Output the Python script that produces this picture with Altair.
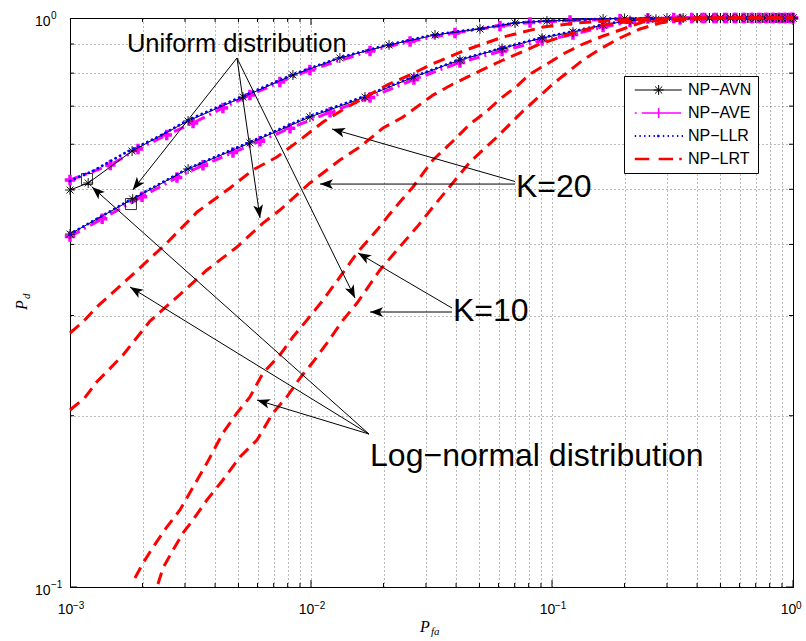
import math
import altair as alt
import pandas as pd

W, H = 723, 569
X_DOMAIN = [0.001, 1.0]
Y_DOMAIN = [0.1, 1.0]

# ---------------- data ----------------
# upper bundle (AVN / AVE / LLR)
up_avn_x = [0.001, 0.00119, 0.00181, 0.00309, 0.00522, 0.00841, 0.01318, 0.02108, 0.0327, 0.05025,
            0.07022, 0.0953, 0.163, 0.2, 0.25, 0.3, 0.35, 0.4, 0.45, 0.5, 0.55, 0.6, 0.65, 0.7, 0.75,
            0.8, 0.85, 0.9, 0.95, 1.0]
up_avn_y = [0.4985, 0.5129, 0.5838, 0.6592, 0.7261, 0.7940, 0.8506, 0.8965, 0.9336, 0.9565,
            0.9800, 0.9879, 0.9960, 0.9980, 0.9990, 1.0, 1.0, 1.0, 1.0, 1.0, 1.0, 1.0, 1.0, 1.0, 1.0,
            1.0, 1.0, 1.0, 1.0, 1.0]
up_ave_x = [0.001, 0.00147, 0.001915, 0.00252, 0.00324, 0.00431, 0.00558, 0.00743, 0.0099, 0.01758,
            0.02576, 0.03958, 0.06081, 0.08105, 0.1188, 0.1915, 0.25, 0.32, 0.38, 0.43, 0.48, 0.53,
            0.58, 0.63, 0.68, 0.73, 0.78, 0.83, 0.88, 0.93, 0.98, 1.0]
up_ave_y = [0.5191, 0.5517, 0.5885, 0.6228, 0.6540, 0.6947, 0.7320, 0.7718, 0.8101, 0.8750,
            0.9093, 0.9411, 0.9681, 0.9819, 0.9900, 0.9950, 0.9980, 1.0, 1.0, 1.0, 1.0, 1.0,
            1.0, 1.0, 1.0, 1.0, 1.0, 1.0, 1.0, 1.0, 1.0, 1.0]
up_llr_x = [0.001, 0.001246, 0.00172, 0.00236, 0.00309, 0.00522, 0.00841, 0.01318, 0.02108, 0.0327,
            0.05025, 0.07022, 0.0953, 0.163, 0.25, 0.4, 1.0]
up_llr_y = [0.5171, 0.5384, 0.5814, 0.6203, 0.6618, 0.7291, 0.7956, 0.8523, 0.8984, 0.9354,
            0.9584, 0.9805, 0.9885, 0.9965, 0.9990, 1.0, 1.0]

# lower bundle (AVN / AVE / LLR)
lo_avn_x = [0.001, 0.00182, 0.00309, 0.00558, 0.0099, 0.01675, 0.02673, 0.0415, 0.06205, 0.09097,
            0.1222, 0.1629, 0.2108, 0.27, 0.3398, 0.4, 0.45, 0.5, 0.55, 0.6, 0.65, 0.7, 0.75, 0.8,
            0.85, 0.9, 0.95, 1.0]
lo_avn_y = [0.4171, 0.4806, 0.5428, 0.6031, 0.6699, 0.7261, 0.7876, 0.8437, 0.8840, 0.9223,
            0.9449, 0.9721, 0.9899, 0.9950, 0.9980, 0.9990, 1.0, 1.0, 1.0, 1.0, 1.0, 1.0, 1.0, 1.0,
            1.0, 1.0, 1.0, 1.0]
lo_ave_x = [0.001, 0.00136, 0.00199, 0.00278, 0.003563, 0.004745, 0.006143, 0.008181, 0.011993,
            0.01758, 0.02673, 0.0415, 0.06205, 0.09097, 0.1222, 0.1629, 0.2108, 0.3398, 0.42, 0.47,
            0.52, 0.57, 0.62, 0.67, 0.72, 0.77, 0.82, 0.87, 0.92, 0.97, 1.0]
lo_ave_y = [0.4130, 0.4437, 0.4853, 0.5243, 0.5512, 0.5800, 0.6074, 0.6402, 0.6831,
            0.7246, 0.7796, 0.8352, 0.8750, 0.9130, 0.9354, 0.9642, 0.9839, 0.9940, 1.0, 1.0,
            1.0, 1.0, 1.0, 1.0, 1.0, 1.0, 1.0, 1.0, 1.0, 1.0, 1.0]
lo_llr_x = [0.001, 0.00182, 0.00309, 0.00558, 0.0099, 0.01675, 0.02673, 0.0415, 0.06205, 0.09097,
            0.1222, 0.1629, 0.2108, 0.3398, 0.45, 1.0]
lo_llr_y = [0.4171, 0.4817, 0.5439, 0.6054, 0.6727, 0.7291, 0.7892, 0.8454, 0.8857, 0.9242,
            0.9468, 0.9741, 0.9920, 0.9988, 1.0, 1.0]

# NP-LRT curves (red dashed)
r1_x = [0.001, 0.00113, 0.00129, 0.00172, 0.00252, 0.00337, 0.00461, 0.00574, 0.00722, 0.009,
        0.01122, 0.0141, 0.01596, 0.02066, 0.02576, 0.03117, 0.04272, 0.06266, 0.09183, 0.1271,
        0.1862, 0.2806, 0.4, 1.0]
r1_y = [0.2795, 0.2921, 0.3105, 0.3464, 0.4022, 0.4561, 0.5026, 0.5406, 0.5698, 0.6104,
        0.6566, 0.6973, 0.7173, 0.7626, 0.7940, 0.8268, 0.8750, 0.9260, 0.9642, 0.9800,
        0.9920, 0.9980, 1.0, 1.0]
r2_x = [0.001, 0.00115, 0.00129, 0.00147, 0.00166, 0.00186, 0.002147, 0.00278, 0.0037, 0.00493,
        0.00632, 0.00743, 0.0099, 0.01318, 0.01596, 0.0199, 0.0241, 0.03207, 0.03885, 0.05025,
        0.06266, 0.08917, 0.1222, 0.1629, 0.2169, 0.2888, 0.411, 1.0]
r2_y = [0.2047, 0.2149, 0.2292, 0.2425, 0.2557, 0.2717, 0.2933, 0.3233, 0.3607, 0.3958,
        0.4361, 0.4598, 0.5129, 0.5630, 0.5933, 0.6408, 0.6699, 0.7320, 0.7656, 0.8071,
        0.8437, 0.9001, 0.9411, 0.9721, 0.9879, 0.9960, 1.0, 1.0]
r3_x = [0.00186, 0.00201, 0.00221, 0.00252, 0.00286, 0.00324, 0.0037, 0.00431, 0.00493, 0.00558,
        0.00632, 0.00743, 0.00841, 0.00962, 0.01122, 0.01318, 0.01552, 0.01878, 0.02188, 0.0265,
        0.03207, 0.03885, 0.04568, 0.05372, 0.06081, 0.07156, 0.08105, 0.0953, 0.1111, 0.1345,
        0.1629, 0.1971, 0.2385, 0.309, 0.411, 1.0]
r3_y = [0.1037, 0.1102, 0.1175, 0.1274, 0.1366, 0.1498, 0.1651, 0.1865, 0.2022, 0.2158,
        0.2377, 0.2557, 0.2750, 0.2945, 0.3194, 0.3506, 0.3864, 0.4239, 0.4598, 0.5047,
        0.5630, 0.6079, 0.6513, 0.6861, 0.7203, 0.7595, 0.7972, 0.8301, 0.8645, 0.9001,
        0.9297, 0.9565, 0.9839, 0.9960, 1.0, 1.0]
r4_x = [0.002318, 0.002431, 0.002676, 0.00294, 0.00324, 0.0037, 0.00431, 0.00507, 0.00597, 0.00695,
        0.00794, 0.009, 0.01019, 0.01165, 0.01358, 0.01552, 0.01933, 0.02274, 0.02752, 0.03207,
        0.04568, 0.0591, 0.0758, 0.1009, 0.1345, 0.1583, 0.1915, 0.2318, 0.2806, 0.3398,
        0.4528, 0.6637, 1.0]
r4_y = [0.1012, 0.1080, 0.1161, 0.1244, 0.1312, 0.1422, 0.1542, 0.1692, 0.1813, 0.2022,
        0.2158, 0.2329, 0.2485, 0.2684, 0.2945, 0.3155, 0.3607, 0.3910, 0.4291, 0.4654,
        0.5584, 0.6178, 0.6861, 0.7656, 0.8437, 0.8822, 0.9223, 0.9565, 0.9800, 0.9920,
        0.9980, 1.0, 1.0]

# highlighted square markers
sq_x = [0.001176, 0.00179]
sq_y = [0.5212, 0.4710]

# annotation arrows (tail -> head)
arrow_x1 = [0.00493, 0.00493, 0.00493, 0.07022, 0.07022, 0.03846, 0.03846, 0.0174, 0.0174, 0.0174]
arrow_y1 = [0.8506, 0.8506, 0.8506, 0.5160, 0.5107, 0.3092, 0.3043, 0.1857, 0.1857, 0.1857]
arrow_x2 = [0.00182, 0.006143, 0.01523, 0.01222, 0.0109, 0.01567, 0.01758, 0.001234, 0.001775, 0.00597]
arrow_y2 = [0.4985, 0.4453, 0.3220, 0.6382, 0.5107, 0.3864, 0.3043, 0.5047, 0.3367, 0.2131]

# annotation texts
ann_text = ["Uniform distribution", "K=20", "K=10", "Log\u2212normal distribution"]
ann_x = [0.001723, 0.07089, 0.03883, 0.01758]
ann_y = [0.8715, 0.4845, 0.2934, 0.1632]
ann_size = [25.5, 32, 32, 32]

# axes: tick positions and decade exponents
x_major = [0.001, 0.01, 0.1, 1.0]
x_exp = ["\u22123", "\u22122", "\u22121", "0"]
x_minor = [0.002, 0.003, 0.004, 0.005, 0.006, 0.007, 0.008, 0.009,
           0.02, 0.03, 0.04, 0.05, 0.06, 0.07, 0.08, 0.09,
           0.2, 0.3, 0.4, 0.5, 0.6, 0.7, 0.8, 0.9]
y_major = [0.1, 1.0]
y_exp = ["\u22121", "0"]
y_minor = [0.2, 0.3, 0.4, 0.5, 0.6, 0.7, 0.8, 0.9]

legend_names = ["NP\u2212AVN", "NP\u2212AVE", "NP\u2212LLR", "NP\u2212LRT"]
legend_colors = ["#000000", "#FF00FF", "#0000FF", "#FF0000"]
legend_widths = [1, 2.5, 2, 3]

# ---------------- styling ----------------
FONT = "Liberation Sans"
SERIF = "Liberation Serif"
STAR = "M-1,0H1M0,-1V1M-0.7,-0.7L0.7,0.7M-0.7,0.7L0.7,-0.7"
PLUS = "M-1,0H1M0,-1V1"
HEAD = "M0,0L-2,-0.75L-1.5,0L-2,0.75Z"

LEG_AVN = "M-0.52,0H7.0M2.5,0H4.1M3.3,-0.8V0.8M2.73,-0.57L3.87,0.57M2.73,0.57L3.87,-0.57"
LEG_AVE = "M-0.52,0H-0.2M0.6,0H6.9M3.3,-0.8V0.8"
LEG_LLR = "".join("M%.2f,0h0.22" % (-0.52 + 0.75 * k) for k in range(11)) + "M3.23,-0.2V0.2"
LEG_LRT = "M-0.52,0H1.8M3.3,0H5.6M6.6,0H7.0"
legend_paths = [LEG_AVN, LEG_AVE, LEG_LLR, LEG_LRT]

xs = alt.Scale(type="log", domain=X_DOMAIN, nice=False)
ys = alt.Scale(type="log", domain=Y_DOMAIN, nice=False)

decade = "datum.value == 0.001 || datum.value == 0.01 || datum.value == 0.1 || datum.value == 1 ? '10' : ''"

common_axis = dict(grid=True, gridDash=[1, 3], gridColor="#000000", gridOpacity=0.55, gridWidth=1,
                   ticks=False, domain=True, domainColor="black", domainWidth=1,
                   labelFont=FONT, labelFontSize=14, labelColor="black", title=None,
                   labelOverlap=False, labelFlush=False, labelExpr=decade)
x_axis = alt.Axis(values=x_major + x_minor, labelPadding=15, labelOffset=-5, **common_axis)
y_axis = alt.Axis(values=y_major + y_minor, labelPadding=20, labelOffset=3, labelAlign="right",
                  **common_axis)


def X(field="x"):
    return alt.X(f"{field}:Q", scale=xs, axis=x_axis)


def Y(field="y"):
    return alt.Y(f"{field}:Q", scale=ys, axis=y_axis)


def YD(v):
    return alt.YDatum(v, type="quantitative", scale=ys, axis=y_axis)


def XD(v):
    return alt.XDatum(v, type="quantitative", scale=xs, axis=x_axis)


def frame(pairs):
    rows = []
    for name, xv, yv in pairs:
        for a, b in zip(xv, yv):
            rows.append({"curve": name, "x": a, "y": b})
    return pd.DataFrame(rows)


avn_df = frame([("up", up_avn_x, up_avn_y), ("lo", lo_avn_x, lo_avn_y)])
ave_df = frame([("up", up_ave_x, up_ave_y), ("lo", lo_ave_x, lo_ave_y)])
llr_df = frame([("up", up_llr_x, up_llr_y), ("lo", lo_llr_x, lo_llr_y)])
lrt_df = frame([("r1", r1_x, r1_y), ("r2", r2_x, r2_y), ("r3", r3_x, r3_y), ("r4", r4_x, r4_y)])

# inward ticks (clipped to the frame)
tick_layers = []
for vals, size in [(x_major, 14), (x_minor, 8)]:
    for edge in Y_DOMAIN:
        tick_layers.append(alt.Chart(pd.DataFrame({"v": vals})).mark_tick(
            orient="vertical", size=size, thickness=1, color="black", clip=True, opacity=1).encode(
            x=X("v"), y=YD(edge)))
for vals, size in [(y_major, 14), (y_minor, 8)]:
    for edge in X_DOMAIN:
        tick_layers.append(alt.Chart(pd.DataFrame({"v": vals})).mark_tick(
            orient="horizontal", size=size, thickness=1, color="black", clip=True, opacity=1).encode(
            y=Y("v"), x=XD(edge)))

# exponents of the decade labels
x_exp_layer = alt.Chart(pd.DataFrame({"v": x_major, "e": x_exp})).mark_text(
    align="left", baseline="alphabetic", font=FONT, fontSize=10, color="black", dx=3, dy=22).encode(
    x=X("v"), y=YD(Y_DOMAIN[0]), text="e:N")
y_exp_layer = alt.Chart(pd.DataFrame({"v": y_major, "e": y_exp})).mark_text(
    align="left", baseline="alphabetic", font=FONT, fontSize=10, color="black", dx=-19, dy=1).encode(
    y=Y("v"), x=XD(X_DOMAIN[0]), text="e:N")

ave_line = alt.Chart(ave_df).mark_line(color="#FF00FF", strokeWidth=3, strokeDash=[11, 5, 2, 5]).encode(
    x=X(), y=Y(), detail="curve:N")
ave_pts = alt.Chart(ave_df).mark_point(shape=PLUS, size=110, color="#FF00FF", strokeWidth=3.5,
                                       filled=False, opacity=1).encode(x=X(), y=Y())
avn_line = alt.Chart(avn_df).mark_line(color="black", strokeWidth=1).encode(
    x=X(), y=Y(), detail="curve:N")
avn_pts = alt.Chart(avn_df).mark_point(shape=STAR, size=100, color="black", strokeWidth=0.9,
                                       filled=False, opacity=1).encode(x=X(), y=Y())
llr_line = alt.Chart(llr_df).mark_line(color="#0000FF", strokeWidth=2.8, strokeDash=[0.1, 5],
                                       strokeCap="round").encode(x=X(), y=Y(), detail="curve:N")
lrt_line = alt.Chart(lrt_df).mark_line(color="#FF0000", strokeWidth=3, strokeDash=[12, 7]).encode(
    x=X(), y=Y(), detail="curve:N")
squares = alt.Chart(pd.DataFrame({"x": sq_x, "y": sq_y})).mark_point(
    shape="square", size=121, filled=False, color="black", strokeWidth=0.8, opacity=1).encode(x=X(), y=Y())

# arrows
lx_span = math.log10(X_DOMAIN[1]) - math.log10(X_DOMAIN[0])
ly_span = math.log10(Y_DOMAIN[1]) - math.log10(Y_DOMAIN[0])
angles = []
for a, b, c, d in zip(arrow_x1, arrow_y1, arrow_x2, arrow_y2):
    dx = W * (math.log10(c) - math.log10(a)) / lx_span
    dy = -H * (math.log10(d) - math.log10(b)) / ly_span
    angles.append(math.degrees(math.atan2(dy, dx)) % 360)
arrow_df = pd.DataFrame({"x1": arrow_x1, "y1": arrow_y1, "x2": arrow_x2, "y2": arrow_y2, "ang": angles})
arrow_lines = alt.Chart(arrow_df).mark_rule(color="black", strokeWidth=1).encode(
    x=X("x1"), y=Y("y1"), x2="x2:Q", y2="y2:Q")
arrow_heads = alt.Chart(arrow_df).mark_point(shape=HEAD, size=169, filled=True, color="black",
                                             opacity=1, strokeWidth=0).encode(
    x=X("x2"), y=Y("y2"), angle=alt.Angle("ang:Q", scale=None))

ann_df = pd.DataFrame({"t": ann_text, "x": ann_x, "y": ann_y, "fs": ann_size})
ann_layer = alt.Chart(ann_df).mark_text(align="left", baseline="alphabetic", font=FONT,
                                        color="black").encode(
    x=X(), y=Y(), text="t:N", size=alt.Size("fs:Q", scale=None))

# axis titles (P_d, P_fa)
t_px = alt.Chart(pd.DataFrame({"t": ["P"]})).mark_text(
    align="left", baseline="alphabetic", font=SERIF, fontStyle="italic", fontSize=16, color="black").encode(
    x=alt.value(350), y=alt.value(614), text="t:N")
t_fa = alt.Chart(pd.DataFrame({"t": ["fa"]})).mark_text(
    align="left", baseline="alphabetic", font=SERIF, fontStyle="italic", fontSize=11, color="black").encode(
    x=alt.value(361), y=alt.value(617), text="t:N")
t_py = alt.Chart(pd.DataFrame({"t": ["P"]})).mark_text(
    align="left", baseline="alphabetic", font=SERIF, fontStyle="italic", fontSize=16, color="black",
    angle=270).encode(x=alt.value(-43), y=alt.value(292), text="t:N")
t_d = alt.Chart(pd.DataFrame({"t": ["d"]})).mark_text(
    align="left", baseline="alphabetic", font=SERIF, fontStyle="italic", fontSize=11, color="black",
    angle=270).encode(x=alt.value(-40), y=alt.value(281), text="t:N")

# legend (from scales only; the layer itself draws nothing)
leg = alt.Legend(title=None, orient="none", legendX=554, legendY=58, strokeColor="black",
                 fillColor="white", padding=6, labelFont=FONT, labelFontSize=16, labelColor="black",
                 symbolSize=156.25, rowPadding=7, labelOffset=42, symbolFillColor="transparent",
                 cornerRadius=0)
legend_layer = alt.Chart(pd.DataFrame({"series": legend_names, "x": [0.5] * 4, "y": [0.5] * 4})
                         ).transform_filter("false").mark_point(filled=False, opacity=1).encode(
    x=X(), y=Y(),
    shape=alt.Shape("series:N", scale=alt.Scale(domain=legend_names, range=legend_paths), legend=leg),
    color=alt.Color("series:N", scale=alt.Scale(domain=legend_names, range=legend_colors), legend=leg),
    strokeWidth=alt.StrokeWidth("series:N", scale=alt.Scale(domain=legend_names, range=legend_widths),
                                legend=leg),
)

chart = alt.layer(
    *tick_layers, x_exp_layer, y_exp_layer,
    ave_line, ave_pts, avn_line, avn_pts, llr_line, lrt_line, squares,
    arrow_lines, arrow_heads, ann_layer, t_px, t_fa, t_py, t_d, legend_layer,
).properties(
    width=W, height=H,
    autosize=alt.AutoSizeParams(type="none"),
    padding={"left": 70, "top": 18, "right": 13, "bottom": 54},
    background="white",
).configure_view(stroke="black", strokeWidth=1)

chart.save("out.html", embed_options={"renderer": "svg", "actions": False})
